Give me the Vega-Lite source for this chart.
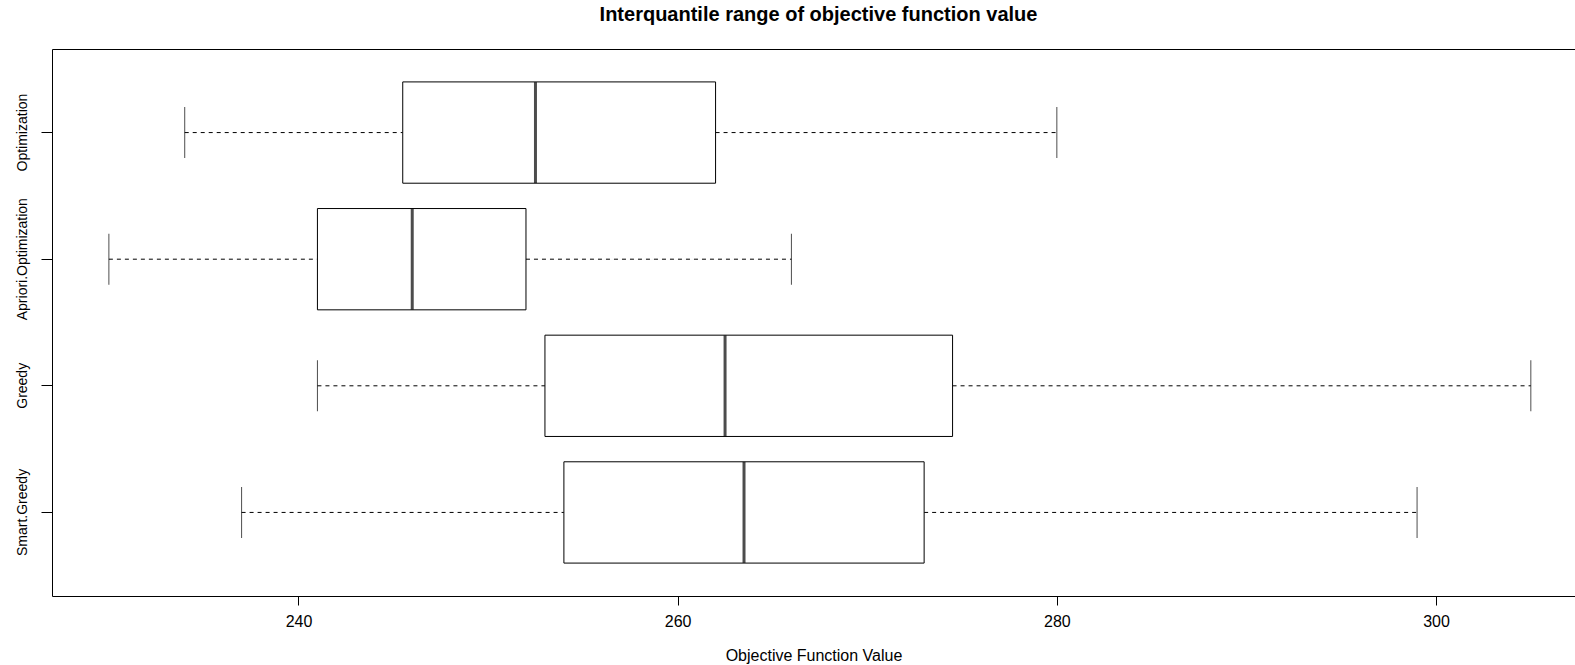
{
  "$schema": "https://vega.github.io/schema/vega-lite/v6.json",
  "autosize": "none",
  "width": 1523,
  "height": 547,
  "padding": {"left": 52, "top": 49, "right": 0, "bottom": 69},
  "background": "white",
  "config": {
    "font": "Liberation Sans",
    "view": {"stroke": "black", "strokeWidth": 1},
    "axis": {"grid": false, "domain": false, "tickColor": "black", "labelColor": "black", "titleColor": "black", "labelFont": "Liberation Sans", "titleFont": "Liberation Sans"}
  },
  "title": {
    "text": "Interquantile range of objective function value",
    "font": "Liberation Sans",
    "fontSize": 20,
    "fontWeight": "bold",
    "color": "black",
    "anchor": "middle",
    "baseline": "alphabetic",
    "offset": 8,
    "dx": 5
  },
  "data": {
    "values": [
      {"method": "Optimization", "lower": 234, "q1": 245.5, "median": 252.5, "q3": 262, "upper": 280},
      {"method": "Apriori.Optimization", "lower": 230, "q1": 241, "median": 246, "q3": 252, "upper": 266},
      {"method": "Greedy", "lower": 241, "q1": 253, "median": 262.5, "q3": 274.5, "upper": 305},
      {"method": "Smart.Greedy", "lower": 237, "q1": 254, "median": 263.5, "q3": 273, "upper": 299}
    ]
  },
  "encoding": {
    "y": {
      "field": "method",
      "type": "nominal",
      "sort": ["Optimization", "Apriori.Optimization", "Greedy", "Smart.Greedy"],
      "scale": {"paddingOuter": 0.16, "paddingInner": 0},
      "axis": {
        "title": null,
        "labelAngle": -90,
        "labelAlign": "center",
        "labelBaseline": "bottom",
        "labelFontSize": 14,
        "labelPadding": 12,
        "tickSize": 11
      }
    }
  },
  "layer": [
    {
      "mark": {"type": "rule", "strokeDash": [4, 4], "color": "black", "strokeWidth": 1},
      "encoding": {
        "x": {
          "field": "lower",
          "type": "quantitative",
          "scale": {"domain": [227, 307.33], "nice": false, "zero": false},
          "axis": {
            "values": [240, 260, 280, 300],
            "labelFontSize": 16,
            "labelPadding": 8,
            "labelFlush": false,
            "tickSize": 9,
            "title": "Objective Function Value",
            "titleFontSize": 16,
            "titleFontWeight": "normal",
            "titlePadding": 18
          }
        },
        "x2": {"field": "q1"}
      }
    },
    {
      "mark": {"type": "rule", "strokeDash": [4, 4], "color": "black", "strokeWidth": 1},
      "encoding": {
        "x": {"field": "q3", "type": "quantitative"},
        "x2": {"field": "upper"}
      }
    },
    {
      "mark": {"type": "tick", "orient": "vertical", "color": "black", "thickness": 1, "size": 51},
      "encoding": {"x": {"field": "lower", "type": "quantitative"}}
    },
    {
      "mark": {"type": "tick", "orient": "vertical", "color": "black", "thickness": 1, "size": 51},
      "encoding": {"x": {"field": "upper", "type": "quantitative"}}
    },
    {
      "mark": {"type": "bar", "fill": "white", "stroke": "black", "strokeWidth": 1, "height": {"band": 0.8}},
      "encoding": {
        "x": {"field": "q1", "type": "quantitative"},
        "x2": {"field": "q3"}
      }
    },
    {
      "mark": {"type": "tick", "orient": "vertical", "color": "black", "thickness": 3, "size": 101},
      "encoding": {"x": {"field": "median", "type": "quantitative"}}
    }
  ]
}
